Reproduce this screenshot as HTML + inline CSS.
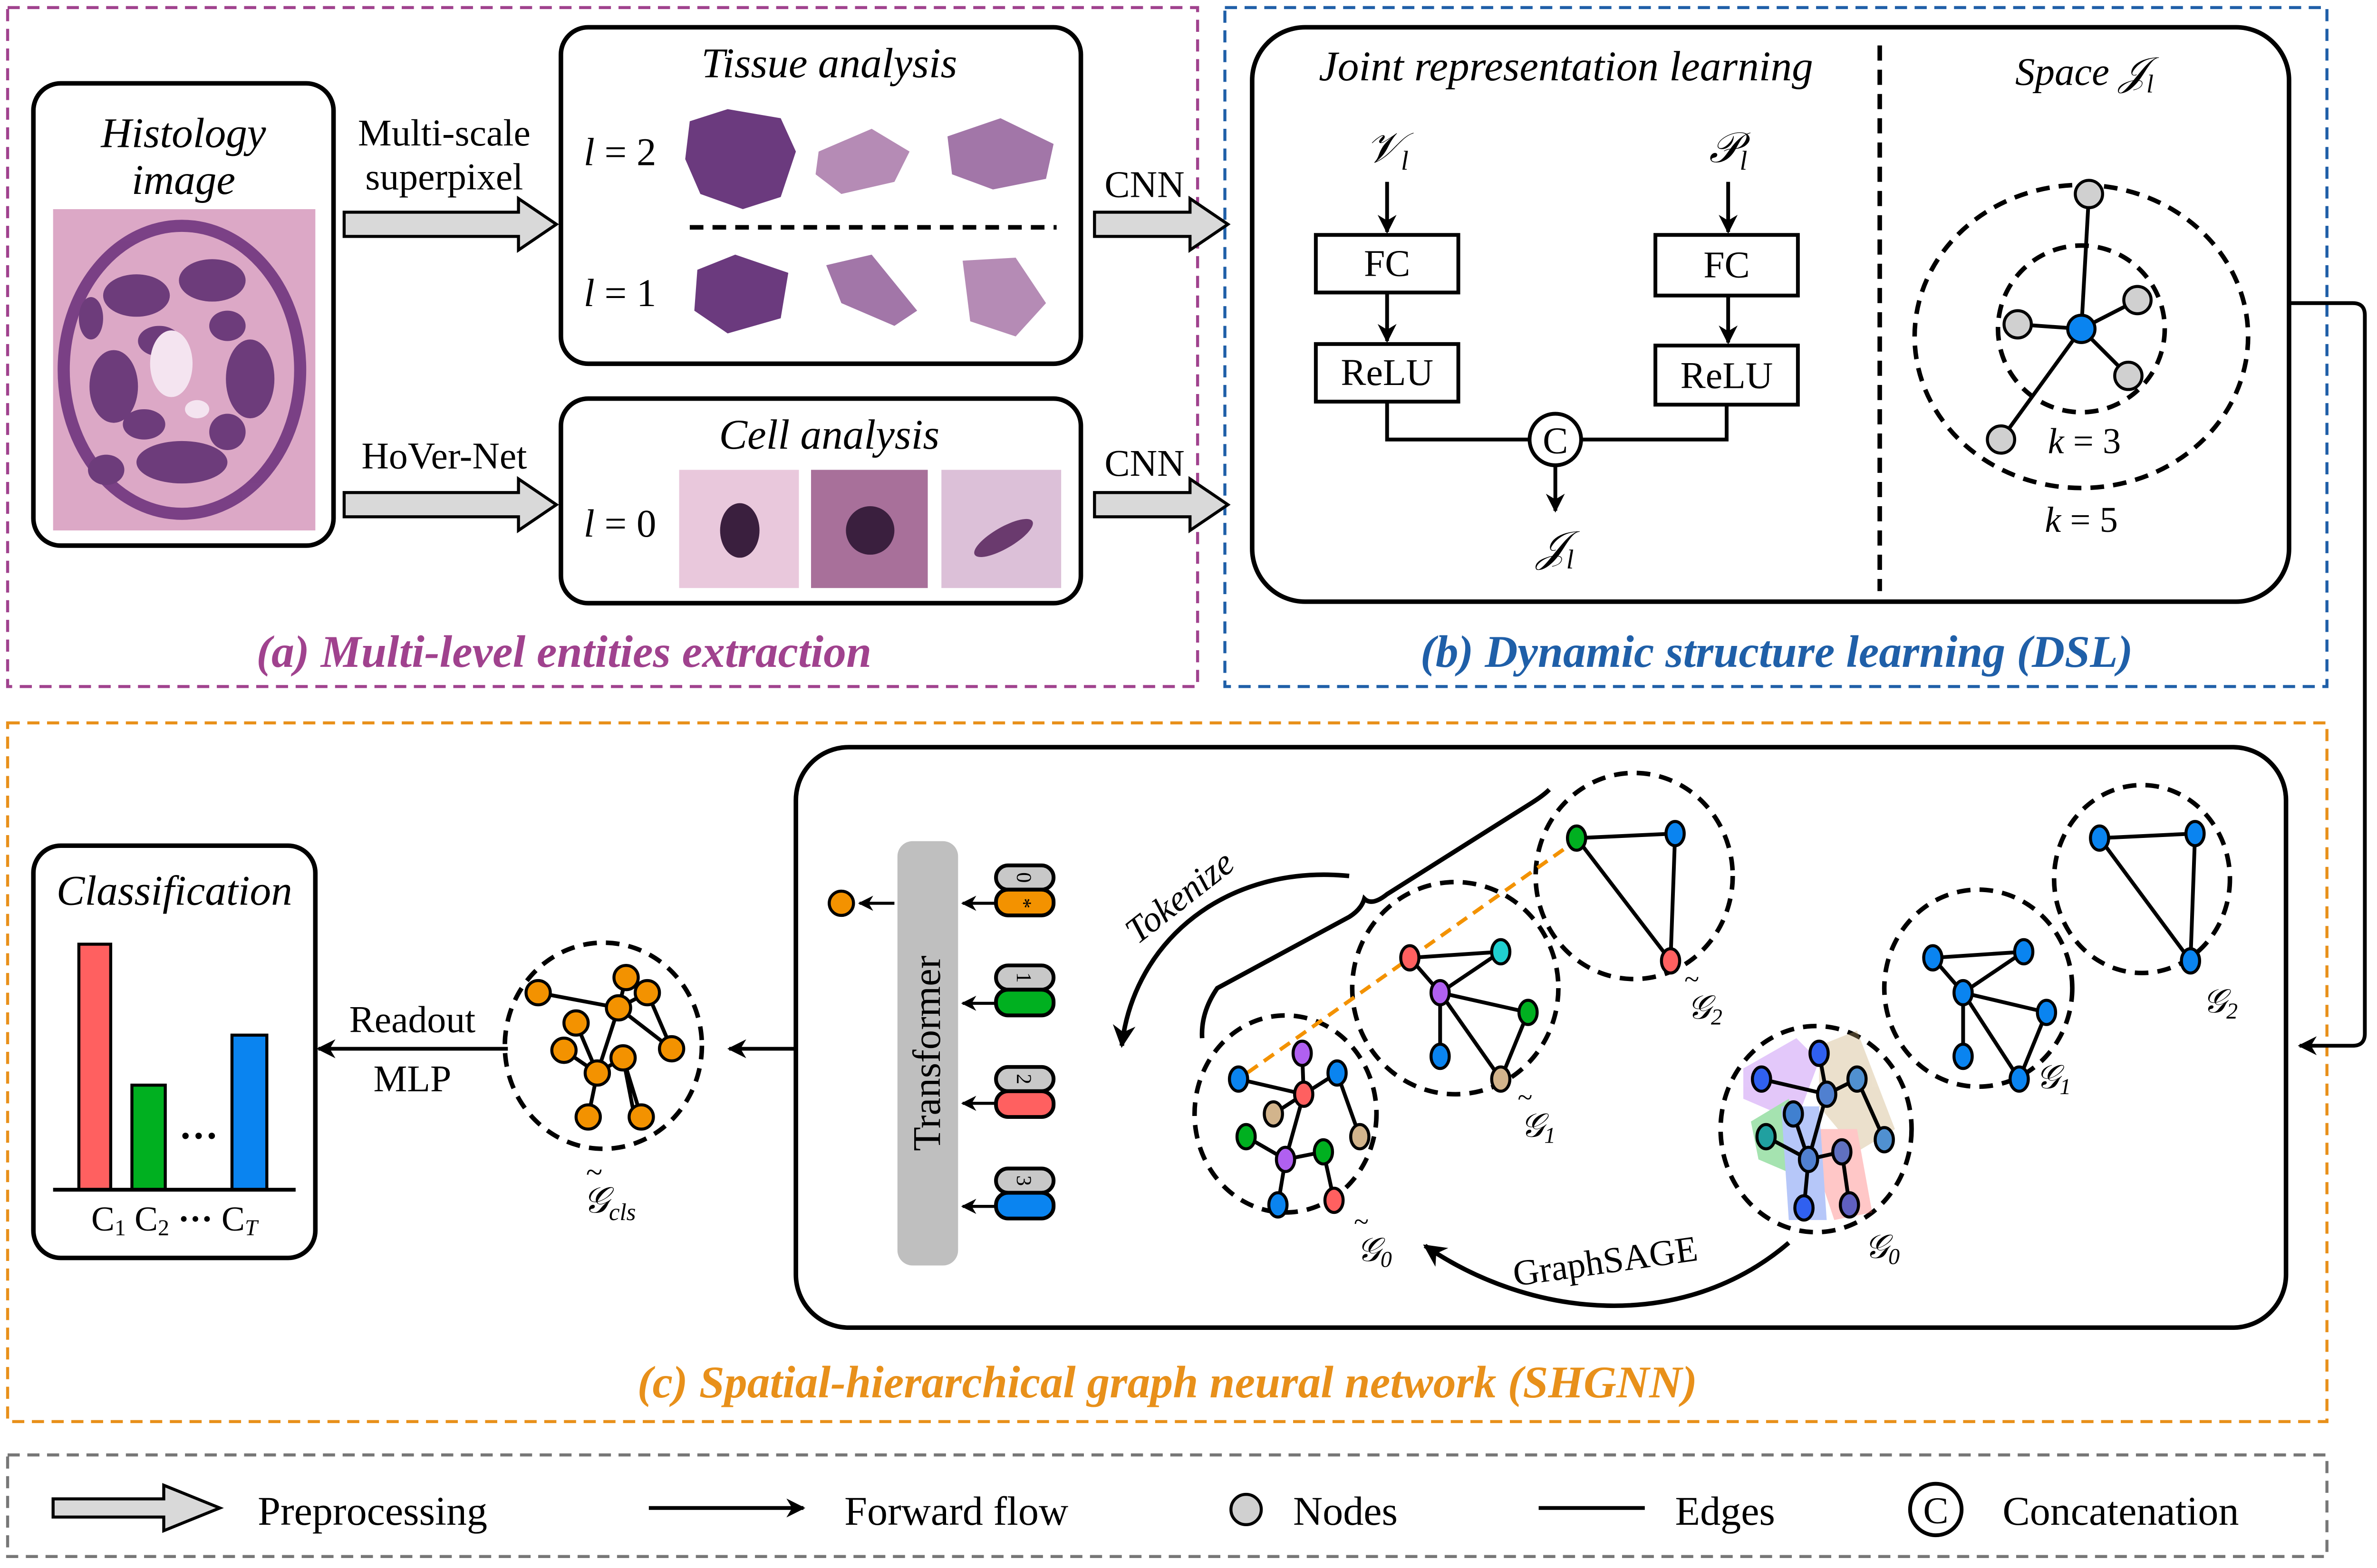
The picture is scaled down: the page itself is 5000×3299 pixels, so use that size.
<!DOCTYPE html>
<html><head><meta charset="utf-8"><style>html,body{margin:0;padding:0;background:#fff}svg{display:block}</style></head>
<body>
<svg xmlns="http://www.w3.org/2000/svg" width="5000" height="3299" viewBox="0 0 1568 1034.6" font-family="'Liberation Serif',serif">
<defs>
<marker id="ah" viewBox="0 0 10 10" refX="9" refY="5" markerWidth="5" markerHeight="5" orient="auto-start-reverse"><path d="M0,0 L10,5 L0,10 L3,5 z" fill="#000"/></marker>
<g id="blk"><path d="M0,-8 H115 V-17 L140,0 L115,17 V8 H0 z" fill="#d9d9d9" stroke="#000" stroke-width="2"/></g>
<g id="blk2"><path d="M0,-8 H63 V-17 L88,0 L63,17 V8 H0 z" fill="#d9d9d9" stroke="#000" stroke-width="2"/></g>
</defs>
<rect width="1568" height="1034.6" fill="#fff"/>
<!-- panels -->
<rect x="5" y="5" width="785" height="448" fill="none" stroke="#a0428e" stroke-width="2" stroke-dasharray="8,5"/>
<rect x="808" y="5" width="727" height="448" fill="none" stroke="#1f5fa8" stroke-width="2" stroke-dasharray="8,5"/>
<rect x="5" y="477" width="1530" height="461" fill="none" stroke="#e8901a" stroke-width="2" stroke-dasharray="8,5"/>
<rect x="5" y="960" width="1530" height="67" fill="none" stroke="#777" stroke-width="2" stroke-dasharray="8,5"/>
<g font-weight="bold" font-style="italic" font-size="30" text-anchor="middle">
<text x="372" y="440" fill="#a0428e">(a) Multi-level entities extraction</text>
<text x="1172" y="440" fill="#1f5fa8">(b) Dynamic structure learning (DSL)</text>
<text x="770" y="922" fill="#e8901a">(c) Spatial-hierarchical graph neural network (SHGNN)</text>
</g>
<!-- (a) -->
<rect x="22" y="55" width="198" height="305" rx="18" fill="#fff" stroke="#000" stroke-width="3"/>
<text x="121" y="97" font-size="28" font-style="italic" text-anchor="middle">Histology</text>
<text x="121" y="128" font-size="28" font-style="italic" text-anchor="middle">image</text>
<rect x="35" y="138" width="173" height="212" fill="#dca8c6"/>
<g fill="#5a2a6e" opacity="0.85">
<ellipse cx="120" cy="244" rx="78" ry="95" fill="none" stroke="#6a2f7a" stroke-width="8"/>
<ellipse cx="90" cy="195" rx="22" ry="14"/><ellipse cx="140" cy="185" rx="22" ry="14"/><ellipse cx="75" cy="255" rx="16" ry="24"/>
<ellipse cx="165" cy="250" rx="16" ry="26"/><ellipse cx="120" cy="305" rx="30" ry="14"/><ellipse cx="105" cy="225" rx="14" ry="10"/>
<ellipse cx="150" cy="215" rx="12" ry="10"/><ellipse cx="70" cy="310" rx="12" ry="10"/><ellipse cx="95" cy="280" rx="14" ry="10"/>
<ellipse cx="150" cy="285" rx="12" ry="12"/><ellipse cx="60" cy="210" rx="8" ry="14"/>
</g>
<ellipse cx="113" cy="240" rx="14" ry="22" fill="#f4e4f0"/>
<ellipse cx="130" cy="270" rx="8" ry="6" fill="#f4e4f0"/>
<use href="#blk" x="227" y="148"/>
<use href="#blk" x="227" y="333"/>
<text x="293" y="96" font-size="25" text-anchor="middle">Multi-scale</text>
<text x="293" y="125" font-size="25" text-anchor="middle">superpixel</text>
<text x="293" y="309" font-size="25" text-anchor="middle">HoVer-Net</text>
<rect x="370" y="18" width="343" height="222" rx="18" fill="#fff" stroke="#000" stroke-width="3"/>
<text x="547" y="51" font-size="28" font-style="italic" text-anchor="middle">Tissue analysis</text>
<text x="385" y="109" font-size="26" font-style="italic">l <tspan font-style="normal">= 2</tspan></text>
<text x="385" y="202" font-size="26" font-style="italic">l <tspan font-style="normal">= 1</tspan></text>
<line x1="455" y1="150" x2="697" y2="150" stroke="#000" stroke-width="3" stroke-dasharray="9,6"/>
<g fill="#6b3a7e">
<path d="M455,80 L480,72 L515,78 L525,100 L515,130 L490,138 L462,128 L452,105 z"/>
<path d="M540,100 L575,85 L600,100 L590,120 L555,128 L538,115 z" fill="#b58bb5"/>
<path d="M625,90 L660,78 L695,95 L690,118 L655,125 L628,115 z" fill="#a276a8"/>
<path d="M460,178 L485,168 L520,180 L515,210 L480,220 L458,205 z"/>
<path d="M545,175 L575,168 L605,205 L590,215 L555,200 z" fill="#a276a8"/>
<path d="M635,172 L670,170 L690,200 L670,222 L640,212 z" fill="#b58bb5"/>
</g>
<rect x="370" y="263" width="343" height="135" rx="18" fill="#fff" stroke="#000" stroke-width="3"/>
<text x="547" y="296" font-size="28" font-style="italic" text-anchor="middle">Cell analysis</text>
<text x="385" y="354" font-size="26" font-style="italic">l <tspan font-style="normal">= 0</tspan></text>
<rect x="448" y="310" width="79" height="78" fill="#e9c8dc"/><ellipse cx="488" cy="350" rx="13" ry="18" fill="#3a1f3e"/>
<rect x="535" y="310" width="77" height="78" fill="#a8709a"/><ellipse cx="574" cy="350" rx="16" ry="16" fill="#3a1f3e"/>
<rect x="621" y="310" width="79" height="78" fill="#dcc0d8"/><ellipse cx="662" cy="355" rx="22" ry="7" fill="#6a3a6e" transform="rotate(-30 662 355)"/>
<use href="#blk2" x="722" y="148"/>
<use href="#blk2" x="722" y="333"/>
<text x="755" y="130" font-size="25" text-anchor="middle">CNN</text>
<text x="755" y="314" font-size="25" text-anchor="middle">CNN</text>
<!-- (b) -->
<rect x="826" y="18" width="684" height="379" rx="35" fill="#fff" stroke="#000" stroke-width="3"/>
<line x1="1240" y1="30" x2="1240" y2="390" stroke="#000" stroke-width="3" stroke-dasharray="10,6"/>
<text x="1033" y="53" font-size="28" font-style="italic" text-anchor="middle">Joint representation learning</text>
<text x="915" y="107" font-size="28" font-style="italic" text-anchor="middle">𝒱<tspan font-size="18" dy="5">l</tspan></text>
<text x="1140" y="107" font-size="28" font-style="italic" text-anchor="middle">𝒫<tspan font-size="18" dy="5">l</tspan></text>
<g stroke="#000" stroke-width="2.5" fill="none">
<line x1="915" y1="120" x2="915" y2="153" marker-end="url(#ah)"/>
<line x1="1140" y1="120" x2="1140" y2="153" marker-end="url(#ah)"/>
<line x1="915" y1="193" x2="915" y2="225" marker-end="url(#ah)"/>
<line x1="1140" y1="195" x2="1140" y2="226" marker-end="url(#ah)"/>
<path d="M915,265 V290 H1009 M1043,290 H1139 V267"/>
<line x1="1026" y1="307" x2="1026" y2="337" marker-end="url(#ah)"/>
</g>
<g fill="#fff" stroke="#000" stroke-width="2.5">
<rect x="868" y="155" width="94" height="38"/><rect x="1092" y="155" width="94" height="40"/>
<rect x="868" y="227" width="94" height="38"/><rect x="1092" y="228" width="94" height="39"/>
<circle cx="1026" cy="290" r="17"/>
</g>
<g font-size="25" text-anchor="middle">
<text x="915" y="182">FC</text><text x="1139" y="183">FC</text>
<text x="915" y="254">ReLU</text><text x="1139" y="256">ReLU</text>
<text x="1026" y="299">C</text>
</g>
<text x="1026" y="370" font-size="28" font-style="italic" text-anchor="middle">𝒥<tspan font-size="18" dy="5">l</tspan></text>
<text x="1375" y="56" font-size="26" font-style="italic" text-anchor="middle">Space 𝒥<tspan font-size="17" dy="5">l</tspan></text>
<ellipse cx="1373" cy="222" rx="110" ry="100" fill="none" stroke="#000" stroke-width="3" stroke-dasharray="9,6"/>
<circle cx="1373" cy="217" r="55" fill="none" stroke="#000" stroke-width="3" stroke-dasharray="9,6"/>
<g stroke="#000" stroke-width="2.5">
<line x1="1373" y1="217" x2="1378" y2="128"/><line x1="1373" y1="217" x2="1331" y2="214"/>
<line x1="1373" y1="217" x2="1410" y2="198"/><line x1="1373" y1="217" x2="1404" y2="248"/>
<line x1="1373" y1="217" x2="1320" y2="290"/>
</g>
<g fill="#d0d0d0" stroke="#000" stroke-width="2">
<circle cx="1378" cy="128" r="9"/><circle cx="1331" cy="214" r="9"/><circle cx="1410" cy="198" r="9"/><circle cx="1404" cy="248" r="9"/><circle cx="1320" cy="290" r="9"/>
</g>
<circle cx="1373" cy="217" r="9" fill="#0a84f0" stroke="#000" stroke-width="2"/>
<text x="1375" y="299" font-size="24" text-anchor="middle"><tspan font-style="italic">k</tspan> = 3</text>
<text x="1373" y="351" font-size="24" text-anchor="middle"><tspan font-style="italic">k</tspan> = 5</text>
<path d="M1510,200 H1552 Q1560,200 1560,208 V682 Q1560,690 1552,690 H1517" fill="none" stroke="#000" stroke-width="2.5" marker-end="url(#ah)"/>
<!-- (c) -->
<rect x="525" y="493" width="983" height="383" rx="35" fill="#fff" stroke="#000" stroke-width="3"/>
<rect x="22" y="558" width="186" height="272" rx="18" fill="#fff" stroke="#000" stroke-width="3"/>
<text x="115" y="597" font-size="28" font-style="italic" text-anchor="middle">Classification</text>
<rect x="52" y="623" width="21" height="162" fill="#ff6060" stroke="#000" stroke-width="2"/>
<rect x="87" y="716" width="22" height="69" fill="#00b020" stroke="#000" stroke-width="2"/>
<rect x="153" y="683" width="23" height="102" fill="#0a84f0" stroke="#000" stroke-width="2"/>
<line x1="35" y1="785" x2="195" y2="785" stroke="#000" stroke-width="2.5"/>
<text x="131" y="758" font-size="26" text-anchor="middle" font-weight="bold">···</text>
<text x="115" y="812" font-size="23" text-anchor="middle">C<tspan font-size="15" dy="3">1</tspan><tspan dy="-3"> C</tspan><tspan font-size="15" dy="3">2</tspan><tspan dy="-3" font-weight="bold"> ··· </tspan><tspan>C</tspan><tspan font-size="15" dy="3" font-style="italic">T</tspan></text>
<line x1="335" y1="692" x2="210" y2="692" stroke="#000" stroke-width="2.5" marker-end="url(#ah)"/>
<text x="272" y="681" font-size="25" text-anchor="middle">Readout</text>
<text x="272" y="720" font-size="25" text-anchor="middle">MLP</text>
<line x1="525" y1="692" x2="481" y2="692" stroke="#000" stroke-width="2.5" marker-end="url(#ah)"/>
<!-- Gcls -->
<ellipse cx="398" cy="690" rx="65" ry="68" fill="none" stroke="#000" stroke-width="3" stroke-dasharray="9,6"/>
<g stroke="#000" stroke-width="2.5" fill="none">
<path d="M355,655 L408,665 L413,645 M408,665 L427,655 L443,692 M408,665 L394,708 L380,675 M394,708 L372,693 M394,708 L411,698 L423,737 M394,708 L388,737 M408,665 L443,692 M411,698 L418,734"/>
</g>
<g fill="#f39200" stroke="#000" stroke-width="2">
<circle cx="355" cy="655" r="8"/><circle cx="413" cy="645" r="8"/><circle cx="427" cy="655" r="8"/><circle cx="408" cy="665" r="8"/>
<circle cx="380" cy="675" r="8"/><circle cx="443" cy="692" r="8"/><circle cx="372" cy="693" r="8"/><circle cx="394" cy="708" r="8"/>
<circle cx="411" cy="698" r="8"/><circle cx="388" cy="737" r="8"/><circle cx="423" cy="737" r="8"/>
</g>
<text x="402" y="800" font-size="24" font-style="italic" text-anchor="middle">𝒢<tspan font-size="16" dy="5">cls</tspan></text>
<text x="392" y="780" font-size="20" text-anchor="middle">~</text>
<!-- transformer -->
<rect x="592" y="555" width="40" height="280" rx="10" fill="#bfbfbf"/>
<text transform="translate(620,695) rotate(-90)" font-size="26" text-anchor="middle">Transformer</text>
<circle cx="555" cy="596" r="8" fill="#f39200" stroke="#000" stroke-width="2"/>
<line x1="590" y1="596" x2="567" y2="596" stroke="#000" stroke-width="2" marker-end="url(#ah)"/>
<g stroke="#000" stroke-width="2">
<line x1="657" y1="596" x2="635" y2="596" marker-end="url(#ah)"/>
<line x1="657" y1="662" x2="635" y2="662" marker-end="url(#ah)"/>
<line x1="657" y1="728" x2="635" y2="728" marker-end="url(#ah)"/>
<line x1="657" y1="796" x2="635" y2="796" marker-end="url(#ah)"/>
</g>
<g stroke="#000" stroke-width="2.5">
<rect x="657" y="571" width="38" height="16" rx="8" fill="#c8c8c8"/><rect x="657" y="587" width="38" height="17" rx="8" fill="#f39200"/>
<rect x="657" y="637" width="38" height="16" rx="8" fill="#c8c8c8"/><rect x="657" y="653" width="38" height="17" rx="8" fill="#00b020"/>
<rect x="657" y="704" width="38" height="16" rx="8" fill="#c8c8c8"/><rect x="657" y="720" width="38" height="17" rx="8" fill="#ff6060"/>
<rect x="657" y="771" width="38" height="16" rx="8" fill="#c8c8c8"/><rect x="657" y="787" width="38" height="17" rx="8" fill="#0a84f0"/>
</g>
<g font-size="14" text-anchor="middle">
<text transform="translate(676,579) rotate(90)" dy="5">0</text><text transform="translate(676,596) rotate(90)" dy="5">*</text>
<text transform="translate(676,645) rotate(90)" dy="5">1</text>
<text transform="translate(676,712) rotate(90)" dy="5">2</text>
<text transform="translate(676,779) rotate(90)" dy="5">3</text>
</g>
<path d="M890,578 C810,570 748,620 740,690" fill="none" stroke="#000" stroke-width="3" marker-end="url(#ah)"/>
<text transform="translate(783,598) rotate(-38)" font-size="24" font-style="italic" text-anchor="middle">Tokenize</text>
<path d="M793,685 Q792,668 803,652 L890,605 Q898,600 900,593 Q905,598 915,590 L1010,530 Q1018,525 1022,521" fill="none" stroke="#000" stroke-width="3"/>
<path d="M1180,820 C1110,880 1010,870 940,822" fill="none" stroke="#000" stroke-width="3" marker-end="url(#ah)"/>
<text transform="translate(1060,840) rotate(-8)" font-size="24" text-anchor="middle">GraphSAGE</text>
<!-- dashed circles -->
<g fill="none" stroke="#000" stroke-width="3" stroke-dasharray="9,6">
<ellipse cx="848" cy="735" rx="60" ry="65"/><ellipse cx="960" cy="652" rx="68" ry="70"/><ellipse cx="1078" cy="578" rx="65" ry="68"/>
<ellipse cx="1198" cy="745" rx="63" ry="68"/><ellipse cx="1305" cy="652" rx="62" ry="65"/><ellipse cx="1413" cy="580" rx="58" ry="62"/>
</g>
<line x1="1042" y1="553" x2="817" y2="712" stroke="#f39200" stroke-width="2.5" stroke-dasharray="8,5"/>
<!-- G0 left -->
<g stroke="#000" stroke-width="2.5" fill="none">
<path d="M817,712 L860,722 L859,695 M860,722 L882,708 L897,750 M860,722 L848,765 L822,750 M860,722 L840,735 M848,765 L873,760 L880,792 M848,765 L843,795"/>
<path d="M930,632 L990,628 M930,632 L950,655 M950,655 L1008,668 L990,712 M950,655 L950,697 M950,655 L990,712 M950,655 L990,628"/>
<path d="M1040,553 L1105,550 L1102,634 L1040,553"/>
</g>
<g stroke="#000" stroke-width="2">
<ellipse cx="817" cy="712" rx="6" ry="8" fill="#0a84f0"/><ellipse cx="859" cy="695" rx="6" ry="8" fill="#b060f0"/><ellipse cx="882" cy="708" rx="6" ry="8" fill="#0a84f0"/>
<ellipse cx="860" cy="722" rx="6" ry="8" fill="#ff6060"/><ellipse cx="840" cy="735" rx="6" ry="8" fill="#d2b48c"/><ellipse cx="897" cy="750" rx="6" ry="8" fill="#d2b48c"/>
<ellipse cx="822" cy="750" rx="6" ry="8" fill="#00b020"/><ellipse cx="848" cy="765" rx="6" ry="8" fill="#b060f0"/><ellipse cx="873" cy="760" rx="6" ry="8" fill="#00b020"/>
<ellipse cx="843" cy="795" rx="6" ry="8" fill="#0a84f0"/><ellipse cx="880" cy="792" rx="6" ry="8" fill="#ff6060"/>
<ellipse cx="930" cy="632" rx="6" ry="8" fill="#ff6060"/><ellipse cx="990" cy="628" rx="6" ry="8" fill="#20d0d0"/><ellipse cx="950" cy="655" rx="6" ry="8" fill="#b060f0"/>
<ellipse cx="1008" cy="668" rx="6" ry="8" fill="#00b020"/><ellipse cx="950" cy="697" rx="6" ry="8" fill="#0a84f0"/><ellipse cx="990" cy="712" rx="6" ry="8" fill="#d2b48c"/>
<ellipse cx="1040" cy="553" rx="6" ry="8" fill="#00b020"/><ellipse cx="1105" cy="550" rx="6" ry="8" fill="#0a84f0"/><ellipse cx="1102" cy="634" rx="6" ry="8" fill="#ff6060"/>
</g>
<!-- right graphs -->
<g opacity="0.35">
<path d="M1150,705 L1185,685 L1200,700 L1185,740 L1150,725 z" fill="#b060f0"/>
<path d="M1200,690 L1225,680 L1250,745 L1225,760 L1200,730 z" fill="#c8a870"/>
<path d="M1155,740 L1180,725 L1195,780 L1160,765 z" fill="#00b020"/>
<path d="M1190,745 L1225,745 L1235,800 L1210,805 z" fill="#ff6060"/>
<path d="M1175,730 L1200,730 L1205,805 L1180,805 z" fill="#3060f0"/>
</g>
<g stroke="#000" stroke-width="2.5" fill="none">
<path d="M1162,712 L1205,722 L1200,695 M1205,722 L1225,712 L1243,752 M1205,722 L1193,765 L1183,735 M1193,765 L1165,750 M1193,765 L1215,760 L1220,795 M1193,765 L1190,797"/>
<path d="M1275,632 L1335,628 M1275,632 L1295,655 M1295,655 L1350,668 L1332,712 M1295,655 L1295,697 M1295,655 L1332,712 M1295,655 L1335,628"/>
<path d="M1385,553 L1448,550 L1445,634 L1385,553"/>
</g>
<g stroke="#000" stroke-width="2" fill="#0a84f0">
<ellipse cx="1162" cy="712" rx="6" ry="8" fill="#3060f0"/><ellipse cx="1200" cy="695" rx="6" ry="8" fill="#3060f0"/><ellipse cx="1225" cy="712" rx="6" ry="8" fill="#5090d0"/>
<ellipse cx="1205" cy="722" rx="6" ry="8" fill="#5080d0"/><ellipse cx="1183" cy="735" rx="6" ry="8" fill="#4080d0"/><ellipse cx="1243" cy="752" rx="6" ry="8" fill="#5090d0"/>
<ellipse cx="1165" cy="750" rx="6" ry="8" fill="#20a0a0"/><ellipse cx="1193" cy="765" rx="6" ry="8" fill="#5080d0"/><ellipse cx="1215" cy="760" rx="6" ry="8" fill="#6070c0"/>
<ellipse cx="1190" cy="797" rx="6" ry="8" fill="#3060f0"/><ellipse cx="1220" cy="795" rx="6" ry="8" fill="#6060c0"/>
<ellipse cx="1275" cy="632" rx="6" ry="8"/><ellipse cx="1335" cy="628" rx="6" ry="8"/><ellipse cx="1295" cy="655" rx="6" ry="8"/>
<ellipse cx="1350" cy="668" rx="6" ry="8"/><ellipse cx="1295" cy="697" rx="6" ry="8"/><ellipse cx="1332" cy="712" rx="6" ry="8"/>
<ellipse cx="1385" cy="553" rx="6" ry="8"/><ellipse cx="1448" cy="550" rx="6" ry="8"/><ellipse cx="1445" cy="634" rx="6" ry="8"/>
</g>
<g font-size="22" font-style="italic">
<text x="895" y="832">𝒢<tspan font-size="15" dy="4">0</tspan></text>
<text x="1003" y="750">𝒢<tspan font-size="15" dy="4">1</tspan></text>
<text x="1113" y="672">𝒢<tspan font-size="15" dy="4">2</tspan></text>
<text x="1230" y="830">𝒢<tspan font-size="15" dy="4">0</tspan></text>
<text x="1343" y="718">𝒢<tspan font-size="15" dy="4">1</tspan></text>
<text x="1453" y="668">𝒢<tspan font-size="15" dy="4">2</tspan></text>
</g>
<g font-size="18" text-anchor="middle"><text x="898" y="812">~</text><text x="1006" y="730">~</text><text x="1116" y="652">~</text></g>
<!-- legend -->
<path d="M35,989 H108 V980 L145,995 L108,1010 V1001 H35 z" fill="#d9d9d9" stroke="#000" stroke-width="2"/>
<text x="170" y="1006" font-size="27">Preprocessing</text>
<line x1="428" y1="995" x2="530" y2="995" stroke="#000" stroke-width="2.5" marker-end="url(#ah)"/>
<text x="557" y="1006" font-size="27">Forward flow</text>
<circle cx="822" cy="996" r="10" fill="#d0d0d0" stroke="#000" stroke-width="2"/>
<text x="853" y="1006" font-size="27">Nodes</text>
<line x1="1015" y1="995" x2="1085" y2="995" stroke="#000" stroke-width="2.5"/>
<text x="1105" y="1006" font-size="27">Edges</text>
<circle cx="1277" cy="996" r="17" fill="#fff" stroke="#000" stroke-width="2.5"/>
<text x="1277" y="1005" font-size="25" text-anchor="middle">C</text>
<text x="1321" y="1006" font-size="27">Concatenation</text>
</svg>
</body></html>
